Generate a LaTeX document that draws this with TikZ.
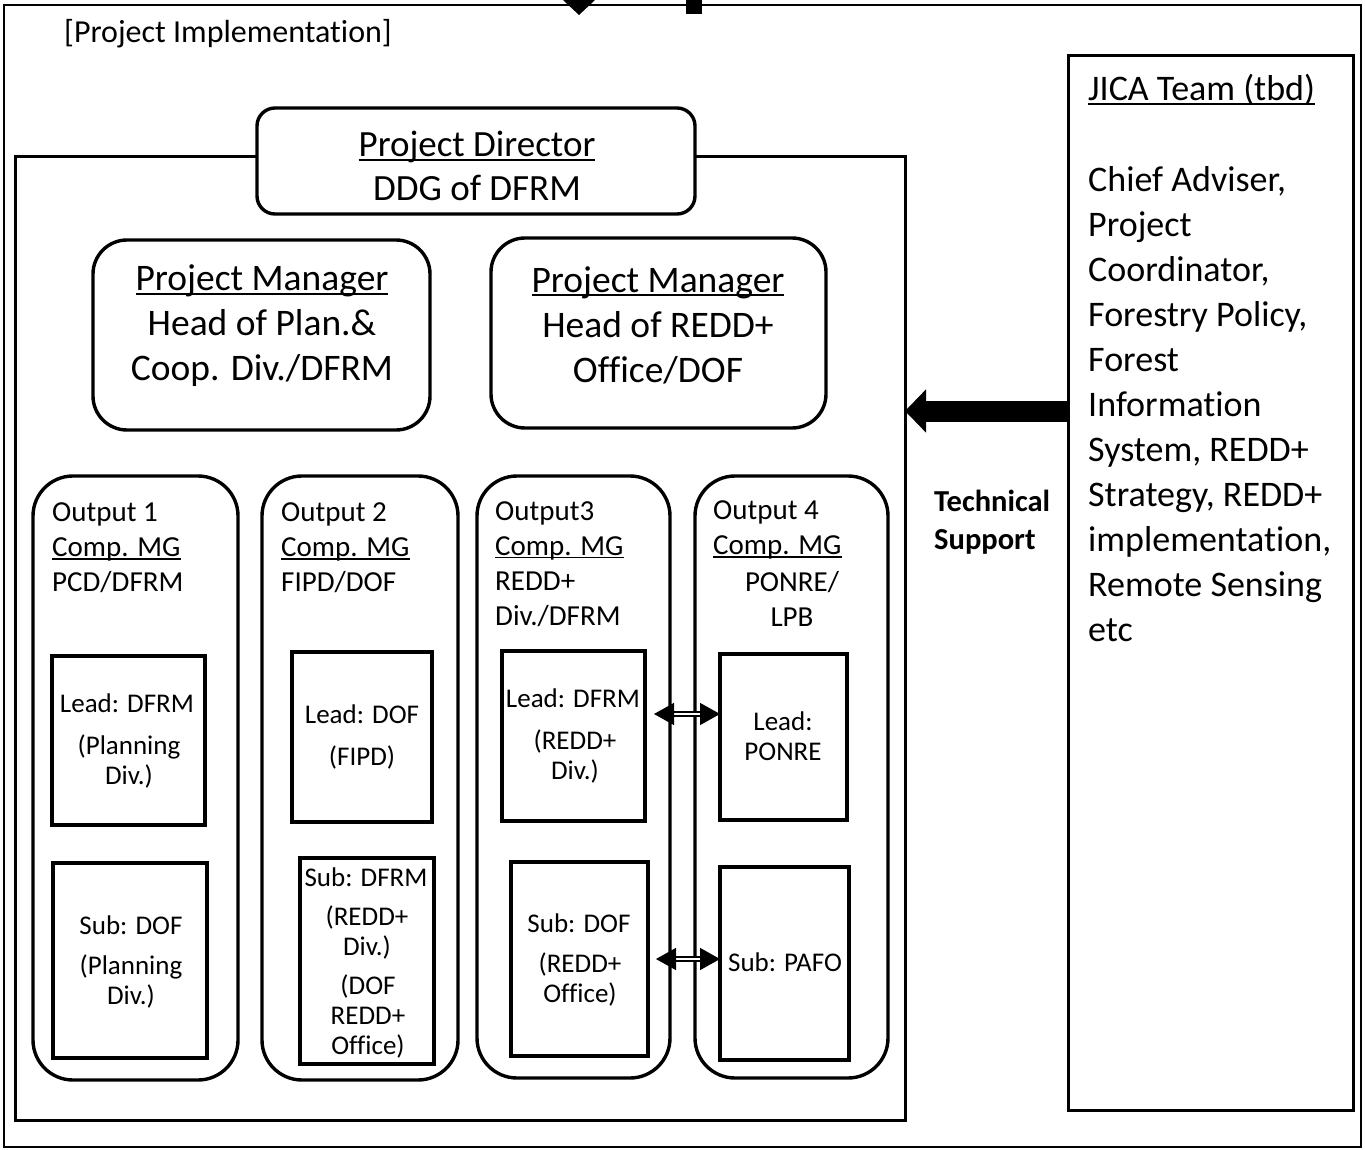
\documentclass[tikz,border=0pt]{standalone}
\usepackage{fontspec}
\setmainfont{Carlito}[Ligatures=CommonOff]
\usetikzlibrary{arrows.meta,calc}

% Word-style underline that crosses descenders
\newcommand\ulx[1]{\setbox0\hbox{#1}\rlap{\rule[-0.11em]{\wd0}{0.055em}}\box0}

\begin{document}
\begin{tikzpicture}[x=1pt,y=-1pt,
  boxbase/.style={anchor=north west, inner sep=0pt, outer sep=0pt},
  frame/.style={boxbase, draw, line width=1.6pt},
  panel/.style={boxbase, draw, line width=3pt},
  rbox/.style={boxbase, draw, line width=3.4pt, fill=white, rounded corners=#1},
  sqbox/.style={boxbase, draw, line width=3.4pt, fill=white},
  ttl/.style={font=\fontsize{32}{36}\selectfont, inner sep=0pt},
  big/.style={font=\fontsize{37}{44}\selectfont, align=center, inner sep=0pt},
  pmtxt/.style={font=\fontsize{37.5}{45}\selectfont, align=center, inner sep=0pt},
  hdr/.style={font=\fontsize{29}{35}\selectfont, align=left, inner sep=0pt},
  sm/.style={font=\fontsize{27}{30}\selectfont, align=center, inner sep=0pt},
  jt/.style={font=\fontsize{36}{45}\selectfont, align=left, inner sep=0pt},
  ts/.style={font=\bfseries\fontsize{30.5}{38}\selectfont, align=left, inner sep=0pt},
  dbl/.style={line width=1.5pt, double=white, double distance=2.8pt,
    {Stealth[length=20pt,width=22pt,inset=0pt]}-{Stealth[length=20pt,width=22pt,inset=0pt]}},
  bigarrow/.style={line width=21pt, -{Triangle[length=21pt,width=42pt]}}
]
\useasboundingbox (0,0) rectangle (1365,1150);

% outer frame and the main project panel
\node[frame, minimum width=1357pt, minimum height=1142pt] (outer) at (4,5) {};
\node[panel, minimum width=890pt, minimum height=963pt] (inner) at (15,157) {};

% fragments of incoming connectors at the top edge
\fill (563,0) -- (595,0) -- (579,15) -- cycle;
\fill (686,0) rectangle (702,14);

\node[ttl, anchor=west] (title) at (64,34) {[Project Implementation]};

% management boxes
\node[rbox=18pt, minimum width=438pt, minimum height=106pt] (pd) at (257,108) {};
\node[rbox=34pt, minimum width=337pt, minimum height=190pt] (pm1) at (93,240) {};
\node[rbox=34pt, minimum width=335pt, minimum height=190pt] (pm2) at (491,238) {};

\node[big] (pdt) at (477,166) {\ulx{Project Director}\\DDG of DFRM};
\node[pmtxt] (pm1t) at (262,326) {\ulx{Project Manager}\\Head of Plan.\&\\Coop. Div./DFRM};
\node[pmtxt] (pm2t) at (658,325) {\ulx{Project Manager}\\Head of REDD+\\Office/DOF};

% output columns
\node[rbox=40pt, minimum width=205pt, minimum height=604pt] (o1) at (33,476) {};
\node[rbox=40pt, minimum width=196pt, minimum height=604pt] (o2) at (262,476) {};
\node[rbox=40pt, minimum width=193pt, minimum height=602pt] (o3) at (477,476) {};
\node[rbox=40pt, minimum width=193pt, minimum height=602pt] (o4) at (695,476) {};

\node[hdr, anchor=west] (o1t) at (52,548) {Output 1\\\ulx{Comp. MG}\\PCD/DFRM};
\node[hdr, anchor=west] (o2t) at (281,548) {Output 2\\\ulx{Comp. MG}\\FIPD/DOF};
\node[hdr, anchor=west] (o3t) at (495,564) {Output3\\\ulx{Comp. MG}\\REDD+\\Div./DFRM};
\node[hdr, anchor=west] (o4t) at (713,530) {Output 4\\\ulx{Comp. MG}};
\node[hdr, align=center] (o4u) at (792,599) {PONRE/\\LPB};

% lead and sub boxes
\node[sqbox, minimum width=153pt, minimum height=169pt] (l1) at (52,656) {};
\node[sqbox, minimum width=154pt, minimum height=195pt] (s1) at (53,863) {};
\node[sqbox, minimum width=140pt, minimum height=170pt] (l2) at (292,652) {};
\node[sqbox, minimum width=134pt, minimum height=206pt] (s2) at (300,858) {};
\node[sqbox, minimum width=143pt, minimum height=170pt] (l3) at (502,651) {};
\node[sqbox, minimum width=137pt, minimum height=194pt] (s3) at (511,862) {};
\node[sqbox, minimum width=127pt, minimum height=166pt] (l4) at (720,654) {};
\node[sqbox, minimum width=129pt, minimum height=193pt] (s4) at (720,867) {};

\node[sm] (l1a) at (127,703) {Lead: DFRM};
\node[sm] (l1b) at (129,761) {(Planning\\Div.)};
\node[sm] (s1a) at (131,925) {Sub: DOF};
\node[sm] (s1b) at (131,981) {(Planning\\Div.)};
\node[sm] (l2a) at (362,714) {Lead: DOF};
\node[sm] (l2b) at (362,757) {(FIPD)};
\node[sm] (s2a) at (366,877) {Sub: DFRM};
\node[sm] (s2b) at (367,932) {(REDD+\\Div.)};
\node[sm] (s2c) at (368,1016) {(DOF\\REDD+\\Office)};
\node[sm] (l3a) at (573,698) {Lead: DFRM};
\node[sm] (l3b) at (575,756) {(REDD+\\Div.)};
\node[sm] (s3a) at (579,923) {Sub: DOF};
\node[sm] (s3b) at (580,979) {(REDD+\\Office)};
\node[sm] (l4a) at (783,736) {Lead:\\PONRE};
\node[sm] (s4a) at (785,962) {Sub: PAFO};

% coordination arrows between Output 3 and Output 4
\coordinate (ya) at (0,714);
\coordinate (yb) at (0,959);
\draw[dbl] ($(l3.east |- ya)+(9,0)$) -- (l4.west |- ya);
\draw[dbl] ($(s3.east |- yb)+(8,0)$) -- (s4.west |- yb);

% JICA team
\node[panel, minimum width=285pt, minimum height=1054pt] (jica) at (1068,56) {};
\node[jt, anchor=west] (jt1) at (1088,90) {\ulx{JICA Team (tbd)}};
\node[jt, anchor=west] (jt2) at (1088,404) {Chief Adviser,\\Project\\Coordinator,\\Forestry Policy,\\Forest\\Information\\System, REDD+\\Strategy, REDD+\\implementation,\\Remote Sensing\\etc};

% technical support arrow
\coordinate (yt) at (0,411);
\draw[bigarrow] (jica.west |- yt) -- (inner.east |- yt);
\node[ts, anchor=west] (tst) at (934,522) {Technical\\Support};

\end{tikzpicture}
\end{document}
